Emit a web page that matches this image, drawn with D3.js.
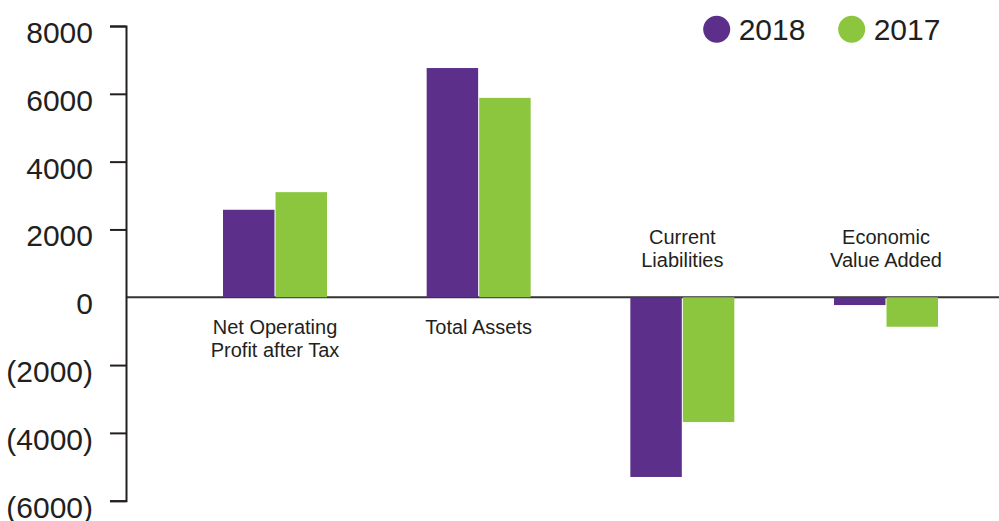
<!DOCTYPE html>
<html>
<head>
<meta charset="utf-8">
<script src="https://cdn.jsdelivr.net/npm/d3@7"></script>
<style>
  html, body { margin: 0; padding: 0; background: #fff; }
  svg { display: block; font-family: "Liberation Sans", Arial, sans-serif; }
</style>
</head>
<body>
<div class="container"></div>
<script>
// chart data
const categories = ["Net Operating Profit after Tax", "Total Assets", "Current Liabilities", "Economic Value Added"]
const categoryLines = [["Net Operating", "Profit after Tax"], ["Total Assets"], ["Current", "Liabilities"], ["Economic", "Value Added"]]
const seriesNames = ["2018", "2017"]
const values2018 = [2580, 6760, -5300, -230]
const values2017 = [3100, 5880, -3680, -870]
const yTicks = [-6000, -4000, -2000, 0, 2000, 4000, 6000, 8000]

const colors = { "2018": "#5b2f8a", "2017": "#8cc63f" }
const textColor = "#231f20"

const width = 999, height = 521

const svg = d3.select("div.container").append("svg")
    .attr("width", width)
    .attr("height", height)

// scales
const y = d3.scaleLinear()
    .domain([d3.min(yTicks), d3.max(yTicks)])
    .range([500.7, 26])

const x = d3.scalePoint()
    .domain(categories)
    .range([275, 886])

const xInner = d3.scaleBand()
    .domain(seriesNames)
    .range([-52, 52])
    .paddingInner(0.02)

const axisX = 126

// zero baseline
svg.append("line")
    .attr("x1", axisX).attr("x2", width)
    .attr("y1", y(0)).attr("y2", y(0))
    .attr("stroke", "#333")
    .attr("stroke-width", 2)

// y axis
const fmt = (d) => d < 0 ? "(" + Math.abs(d) + ")" : String(d)
const yAxis = svg.append("g")
    .attr("transform", "translate(" + axisX + ",0)")
    .call(d3.axisLeft(y)
        .tickValues(yTicks)
        .tickSize(16)
        .tickSizeOuter(16)
        .tickPadding(17)
        .tickFormat(fmt))

yAxis.select(".domain")
    .attr("stroke", textColor)
    .attr("stroke-width", 2)
yAxis.selectAll(".tick line")
    .attr("stroke", textColor)
    .attr("stroke-width", 2)
    .filter((d) => d === 0).remove()
yAxis.selectAll(".tick text")
    .attr("fill", textColor)
    .attr("font-size", 30)
    .attr("font-family", "Liberation Sans, Arial, sans-serif")
    .attr("dy", "0.55em")

// bars
const rows = categories.map((c, i) => ({ cat: c, lines: categoryLines[i], vals: { "2018": values2018[i], "2017": values2017[i] } }))

const groups = svg.selectAll("g.group")
    .data(rows)
    .enter().append("g")
    .attr("class", "group")
    .attr("transform", (d) => "translate(" + x(d.cat) + ",0)")

groups.selectAll("rect")
    .data((d) => seriesNames.map((s) => ({ s: s, v: d.vals[s] })))
    .enter().append("rect")
    .attr("x", (d) => xInner(d.s))
    .attr("width", xInner.bandwidth())
    .attr("y", (d) => y(Math.max(0, d.v)))
    .attr("height", (d) => Math.abs(y(d.v) - y(0)))
    .attr("fill", (d) => colors[d.s])

// category labels: below the axis for positive bars, above for negative
groups.each(function (d) {
    const positive = d.vals["2018"] >= 0
    const n = d.lines.length
    d3.select(this).selectAll("text")
        .data(d.lines)
        .enter().append("text")
        .attr("text-anchor", "middle")
        .attr("fill", textColor)
        .attr("font-size", 20)
        .attr("y", (t, i) => positive ? y(0) + 37 + i * 23 : y(0) - 30 - (n - 1 - i) * 23)
        .text((t) => t)
})

// legend
const legend = svg.append("g")
const legendX = [716.7, 851.7]
seriesNames.forEach((s, i) => {
    legend.append("circle")
        .attr("cx", legendX[i]).attr("cy", 29.3)
        .attr("r", 13.5)
        .attr("fill", colors[s])
    legend.append("text")
        .attr("x", legendX[i] + 22).attr("y", 40)
        .attr("fill", textColor)
        .attr("font-size", 30)
        .text(s)
})
</script>
</body>
</html>
